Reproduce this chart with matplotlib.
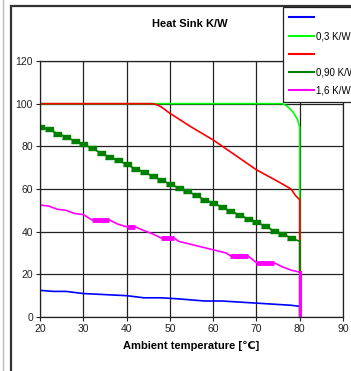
import matplotlib.pyplot as plt
from matplotlib.lines import Line2D
from matplotlib.patches import Rectangle

plt.rcParams['font.family'] = ['Liberation Sans', 'DejaVu Sans']

# 0,1 K/W (blue, no label in legend)
blue_x = [20, 23, 26, 30, 35, 40, 44, 48, 52, 55, 58, 62, 66, 70, 74, 78, 80, 80]
blue_y = [12.5, 12, 12, 11, 10.5, 10, 9, 9, 8.5, 8, 7.5, 7.5, 7, 6.5, 6, 5.5, 5, 0]

# 0,3 K/W
green_x = [20, 30, 40, 50, 60, 70, 76, 77, 78.5, 79.5, 80, 80]
green_y = [100, 100, 100, 100, 100, 100, 100, 99, 96, 92.5, 89, 0]

# red, no label
red_x = [20, 46, 47, 48, 50, 55, 60, 65, 70, 75, 78, 79, 80, 80]
red_y = [100, 100, 99.5, 98.5, 95.5, 89, 83, 76, 69, 63.5, 60, 57, 55, 0]

# 0,90 K/W
dkg_x = [20, 22, 24, 26, 28, 30, 32, 34, 36, 38, 40, 42, 44, 46, 48, 50,
         52, 54, 56, 58, 60, 62, 64, 66, 68, 70, 72, 74, 76, 78, 80, 80]
dkg_y = [89, 88, 86, 84.5, 82.5, 81, 79, 77, 75, 73.5, 71.5, 69.5, 68, 66, 64, 62.5,
         60.5, 59, 57, 55, 53.5, 51.5, 49.5, 48, 46, 44.5, 42.5, 40.5, 39, 37, 35.5, 0]

# 1,6 K/W
mag_x = [20, 22, 24, 26, 28, 30, 32, 36, 38, 40, 42, 44, 46, 48, 51, 52, 55,
         58, 60, 63, 64, 68, 70, 74, 76, 78, 80, 80]
mag_y = [52.5, 52, 50.5, 50, 48.5, 48, 45.5, 45.5, 43.5, 42.3, 42.3, 40.5, 39, 37, 37, 35.5, 34,
         32.5, 31.5, 30, 28.7, 28.7, 25.5, 25.5, 23.5, 22, 21, 0]
mag_thick_x = [(32, 36), (40, 42), (48, 51), (64, 68), (70, 74)]
mag_thick_y = [45.5, 42.3, 37, 28.7, 25.5]

legend_labels = ['', '0,3 K/W', '', '0,90 K/W', '1,6 K/W']
colors = ['#0000FF', '#00FF00', '#FF0000', '#008000', '#FF00FF']

fig = plt.figure(figsize=(3.51, 3.71), dpi=100)
fig.patch.set_facecolor('white')

# chart frame like the spreadsheet export
fig.add_artist(Line2D([3 / 351, 3 / 351], [0, 1], transform=fig.transFigure,
                      color='#BBBBBB', lw=1))
fig.add_artist(Rectangle((10.5 / 351, -0.1), 1.0, 1 - 5.5 / 371 + 0.1,
                         transform=fig.transFigure, fill=False,
                         edgecolor='#333333', lw=1.6))

ax = fig.add_axes([40 / 351, 1 - 317 / 371, 303 / 351, 256 / 371])

ax.plot(blue_x, blue_y, color=colors[0], lw=1.2)
ax.plot(green_x, green_y, color=colors[1], lw=1.2)
ax.plot(red_x, red_y, color=colors[2], lw=1.2)

rect_marker = [(-1, -0.45), (1, -0.45), (1, 0.45), (-1, 0.45)]
ax.plot(dkg_x, dkg_y, color=colors[3], lw=1.2, marker=rect_marker, ms=6,
        markevery=list(range(0, len(dkg_x) - 2)))
ax.plot(mag_x[:-1], mag_y[:-1], color=colors[4], lw=1.2)
for (x0, x1), v in zip(mag_thick_x, mag_thick_y):
    ax.plot([x0, x1], [v, v], color=colors[4], lw=3.5, solid_capstyle='butt')
ax.plot(mag_x[-2:], mag_y[-2:], color=colors[4], lw=2.2)

ax.set_xlim(20, 90)
ax.set_ylim(0, 120)
ax.set_xticks(range(20, 91, 10))
ax.set_yticks(range(0, 121, 20))
ax.grid(True, color='#222222', lw=0.9)
ax.set_axisbelow(True)
for s in ax.spines.values():
    s.set_color('#222222')
    s.set_linewidth(0.9)
ax.tick_params(labelsize=7.5, length=3, width=0.8, colors='#222222', pad=2)

ax.set_xlabel('Ambient temperature [\u2103]', fontsize=8, fontweight='bold', labelpad=5)
fig.text(190 / 351, 1 - 24 / 371, 'Heat Sink K/W', fontsize=8, fontweight='bold',
         ha='center', va='center')

handles = [Line2D([], [], color=c, lw=1.5) for c in colors]
leg = fig.legend(handles, legend_labels, loc='upper left',
                 bbox_to_anchor=(283 / 351, 1 - 7 / 371), fontsize=7,
                 frameon=True, fancybox=False, framealpha=1, edgecolor='#222222',
                 handlelength=2.6, handletextpad=0.15, labelspacing=0.85,
                 borderpad=0.6, borderaxespad=0)
leg.get_frame().set_linewidth(0.9)

fig.savefig('out.png', dpi=100)
